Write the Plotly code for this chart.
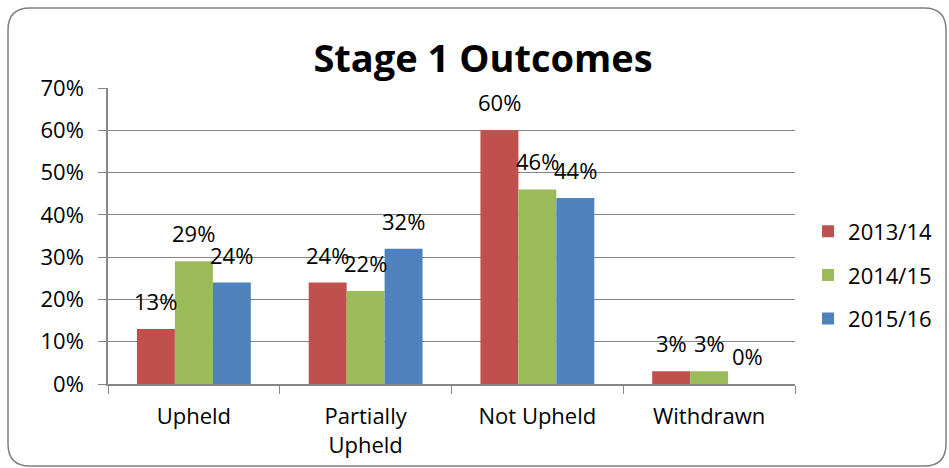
import plotly.graph_objects as go

categories = ["Upheld", "Partially<br>Upheld", "Not Upheld", "Withdrawn"]
series_names = ["2013/14", "2014/15", "2015/16"]
values_2013 = [13, 24, 60, 3]
values_2014 = [29, 22, 46, 3]
values_2015 = [24, 32, 44, 0]
colors = ["#C0504D", "#9BBB59", "#4F81BD"]
y_ticks = [0, 10, 20, 30, 40, 50, 60, 70]
y_tick_text = [f"{v}%" for v in y_ticks]

all_series = [values_2013, values_2014, values_2015]

W, H = 949, 468
L, R, T, B = 108, 154, 88, 84
pw, ph = W - L - R, H - T - B
FONT = "Open Sans"
GRID = "#878787"
FS = 22

fig = go.Figure()
for i, (name, vals) in enumerate(zip(series_names, all_series)):
    fig.add_trace(go.Bar(
        x=categories, y=vals, name=name,
        marker=dict(color=colors[i], line=dict(width=0)),
        legendgroup=name,
    ))

bargap = 0.337
bw = (1 - bargap) / 3
annotations = []
for i, vals in enumerate(all_series):
    for j, v in enumerate(vals):
        annotations.append(dict(
            x=j + (i - 1) * bw, y=v, xref="x", yref="y",
            text=f"{v}%", showarrow=False, yanchor="middle", yshift=28,
            font=dict(family=FONT, size=FS, color="#000000"),
        ))

def px_x(p):
    return (p - L) / pw

def px_y(p):
    return (H - B - p) / ph

x0, x1, y0, y1, r = 8, 946, 8, 466, 22
path = (
    f"M {px_x(x0 + r)} {px_y(y0)} L {px_x(x1 - r)} {px_y(y0)} "
    f"Q {px_x(x1)} {px_y(y0)} {px_x(x1)} {px_y(y0 + r)} "
    f"L {px_x(x1)} {px_y(y1 - r)} "
    f"Q {px_x(x1)} {px_y(y1)} {px_x(x1 - r)} {px_y(y1)} "
    f"L {px_x(x0 + r)} {px_y(y1)} "
    f"Q {px_x(x0)} {px_y(y1)} {px_x(x0)} {px_y(y1 - r)} "
    f"L {px_x(x0)} {px_y(y0 + r)} "
    f"Q {px_x(x0)} {px_y(y0)} {px_x(x0 + r)} {px_y(y0)} Z"
)

fig.update_layout(
    width=W, height=H,
    margin=dict(l=L, r=R, t=T, b=B, pad=0, autoexpand=False),
    paper_bgcolor="white", plot_bgcolor="white",
    barmode="group", bargap=bargap, bargroupgap=0,
    title=dict(text="<b>Stage 1 Outcomes</b>", x=0.509, xanchor="center",
               y=1 - 59 / H, yanchor="middle",
               font=dict(family=FONT, size=38, color="#000000")),
    font=dict(family=FONT, size=FS, color="#000000"),
    legend=dict(x=1.019, xanchor="left", y=0.368, yanchor="middle",
                traceorder="grouped", tracegroupgap=12,
                font=dict(family=FONT, size=FS, color="#000000"),
                bgcolor="rgba(0,0,0,0)"),
    xaxis=dict(showgrid=False, showline=True, linecolor=GRID, linewidth=1.5,
               ticks="outside", tickson="boundaries", ticklen=8, tickcolor=GRID,
               ticklabelstandoff=12, automargin=False,
               tickfont=dict(family=FONT, size=FS, color="#000000")),
    yaxis=dict(range=[0, 70], tickvals=y_ticks, ticktext=y_tick_text,
               showgrid=True, gridcolor=GRID, gridwidth=1.2,
               showline=True, linecolor=GRID, linewidth=1.5,
               ticks="outside", ticklen=8, tickcolor=GRID, zeroline=False,
               ticklabelstandoff=10, automargin=False,
               tickfont=dict(family=FONT, size=FS, color="#000000")),
    annotations=annotations,
    shapes=[dict(type="path", path=path, xref="paper", yref="paper",
                 line=dict(color="#7F7F7F", width=1.5), layer="above")],
)

fig.write_html("out.html")
